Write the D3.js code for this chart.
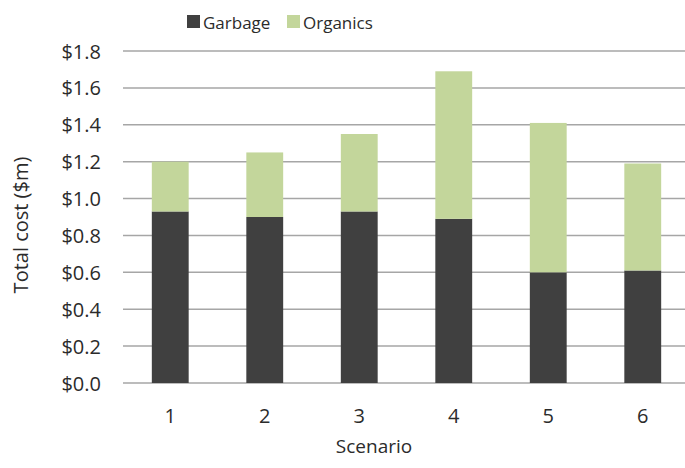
<!DOCTYPE html>
<html>
<head>
<meta charset="utf-8">
<script src="https://cdn.jsdelivr.net/npm/d3@7"></script>
<style>
  body { margin: 0; background: #fff; }
  text { font-family: "Open Sans", "Noto Sans", sans-serif; fill: #2b2b2b; }
</style>
</head>
<body>
<script>
var scenarios = ["1", "2", "3", "4", "5", "6"];
var garbage = [0.93, 0.90, 0.93, 0.89, 0.60, 0.61];
var organics = [0.27, 0.35, 0.42, 0.80, 0.81, 0.58];
var yTicks = [0, 0.2, 0.4, 0.6, 0.8, 1.0, 1.2, 1.4, 1.6, 1.8];
var seriesNames = ["Garbage", "Organics"];

var width = 685, height = 468;
var margin = {top: 51, right: -5, bottom: 85, left: 123};

var colors = {Garbage: "#404040", Organics: "#c3d69b"};

var svg = d3.select("body").append("svg")
	.attr("width", width)
	.attr("height", height);

var x = d3.scaleBand()
	.domain(scenarios)
	.range([margin.left, width - margin.right])
	.paddingInner(0.61)
	.paddingOuter(0.305);

var y = d3.scaleLinear()
	.domain([0, 1.8])
	.range([height - margin.bottom, margin.top]);

// gridlines
svg.append("g").selectAll("line")
	.data(yTicks)
	.enter().append("line")
	.attr("x1", margin.left)
	.attr("x2", width)
	.attr("y1", function(d) { return y(d); })
	.attr("y2", function(d) { return y(d); })
	.attr("stroke", "#a6a6a6")
	.attr("stroke-width", 1.5);

// stacked bars
var rows = scenarios.map(function(s, i) {
	return {scenario: s, Garbage: garbage[i], Organics: organics[i]};
});
var stack = d3.stack().keys(seriesNames)(rows);

svg.append("g").selectAll("g")
	.data(stack)
	.enter().append("g")
	.attr("fill", function(d) { return colors[d.key]; })
	.selectAll("rect")
	.data(function(d) { return d; })
	.enter().append("rect")
	.attr("x", function(d) { return x(d.data.scenario); })
	.attr("width", x.bandwidth())
	.attr("y", function(d) { return y(d[1]); })
	.attr("height", function(d) { return y(d[0]) - y(d[1]); });

// y axis labels
var yAxis = d3.axisLeft(y)
	.tickValues(yTicks)
	.tickSize(0)
	.tickPadding(0)
	.tickFormat(function(d) { return "$" + d3.format(".1f")(d); });
var gy = svg.append("g")
	.attr("transform", "translate(" + (margin.left - 22) + ",0)")
	.call(yAxis);
gy.select(".domain").remove();
gy.selectAll("text")
	.style("font-size", "20px")
	.attr("fill", "#2b2b2b")
	.attr("dy", "0.35em");

// x axis labels
var xAxis = d3.axisBottom(x).tickSize(0).tickPadding(0);
var gx = svg.append("g")
	.attr("transform", "translate(0," + (height - margin.bottom + 26) + ")")
	.call(xAxis);
gx.select(".domain").remove();
gx.selectAll("text")
	.style("font-size", "20px")
	.attr("fill", "#2b2b2b");

// axis titles
svg.append("text")
	.attr("x", 374)
	.attr("y", 453)
	.attr("text-anchor", "middle")
	.style("font-size", "19px")
	.text("Scenario");

svg.append("text")
	.attr("transform", "translate(28,225) rotate(-90)")
	.attr("text-anchor", "middle")
	.style("font-size", "20px")
	.text("Total cost ($m)");

// legend
var legendX = [187, 287];
var legend = svg.append("g").selectAll("g")
	.data(seriesNames)
	.enter().append("g")
	.attr("transform", function(d, i) { return "translate(" + legendX[i] + ",15)"; });
legend.append("rect")
	.attr("width", 13)
	.attr("height", 13)
	.attr("fill", function(d) { return colors[d]; });
legend.append("text")
	.attr("x", 16)
	.attr("y", 13.5)
	.style("font-size", "17px")
	.text(function(d) { return d; });
</script>
</body>
</html>
